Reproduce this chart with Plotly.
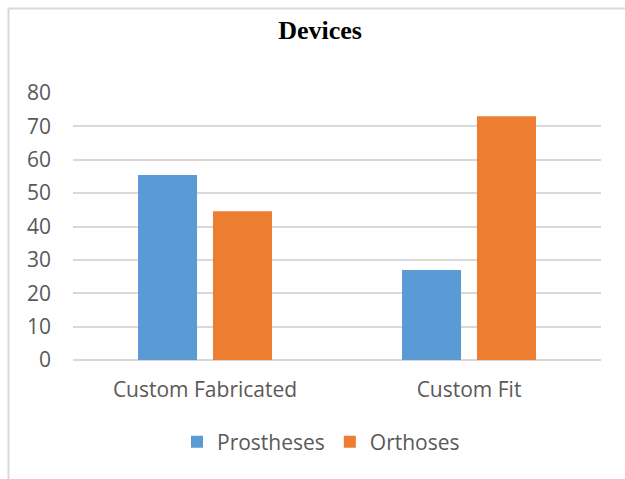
import plotly.graph_objects as go

categories = ["Custom Fabricated", "Custom Fit"]
prostheses = [55.4, 27]
orthoses = [44.6, 73]
y_ticks = [0, 10, 20, 30, 40, 50, 60, 70, 80]

W, H = 625, 479
ML, MR, MT, MB = 73, 24, 93, 119
PW, PH = W - ML - MR, H - MT - MB

def px_x(x):
    return (x - ML) / PW

def px_y(y):
    return (H - MB - y) / PH

font_main = "Open Sans, Lato, sans-serif"
gray = "#595959"

fig = go.Figure()
fig.add_trace(go.Bar(name="Prostheses", x=categories, y=prostheses,
                     marker=dict(color="#5B9BD5", line=dict(width=0))))
fig.add_trace(go.Bar(name="Orthoses", x=categories, y=orthoses,
                     marker=dict(color="#ED7D31", line=dict(width=0))))

fig.update_layout(
    width=W, height=H,
    margin=dict(l=ML, r=MR, t=MT, b=MB, pad=0),
    paper_bgcolor="white", plot_bgcolor="white",
    barmode="group", bargap=0.432, bargroupgap=0.213,
    title=dict(text="<b>Devices</b>", x=320 / W, xanchor="center",
               y=1 - 30 / H, yanchor="middle", yref="container",
               font=dict(family="Liberation Serif, Times New Roman, serif", size=26, color="black")),
    font=dict(family=font_main, color=gray, size=21),
    showlegend=True,
    legend=dict(orientation="h", x=px_x(321), xanchor="center",
                y=px_y(442), yanchor="middle",
                font=dict(family=font_main, size=21, color=gray),
                itemwidth=30, traceorder="normal"),
    xaxis=dict(showgrid=False, showline=False, zeroline=False, ticks="",
               tickfont=dict(family=font_main, size=21, color=gray),
               ticklabelstandoff=15),
    yaxis=dict(range=[0, 80], tickvals=y_ticks, showgrid=True, gridcolor="#D9D9D9",
               gridwidth=1.5, zeroline=True, zerolinecolor="#D9D9D9", zerolinewidth=1.5,
               showline=False, ticks="",
               tickfont=dict(family=font_main, size=21, color=gray),
               ticklabelstandoff=21),
    shapes=[
        dict(type="line", xref="paper", yref="paper",
             x0=px_x(8.5), x1=px_x(W + 5), y0=px_y(8.5), y1=px_y(8.5),
             line=dict(color="#D9D9D9", width=2)),
        dict(type="line", xref="paper", yref="paper",
             x0=px_x(8.5), x1=px_x(8.5), y0=px_y(8.5), y1=px_y(H + 5),
             line=dict(color="#D9D9D9", width=2)),
    ],
)

fig.write_html("out.html")
